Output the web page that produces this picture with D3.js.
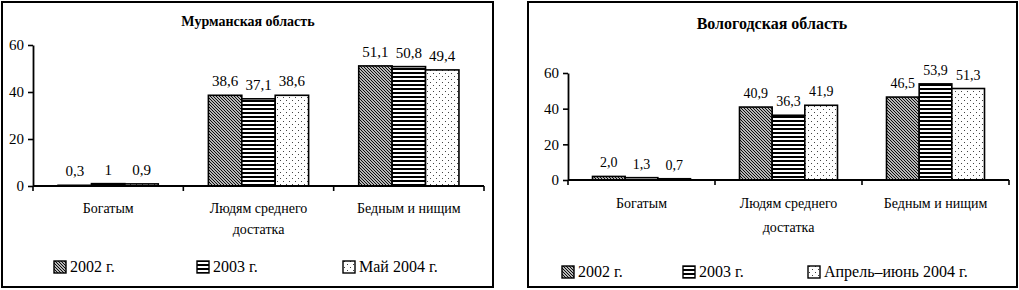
<!DOCTYPE html>
<html>
<head>
<meta charset="utf-8">
<script src="https://cdn.jsdelivr.net/npm/d3@7"></script>
</head>
<body style="margin:0">
<script>
// categories and tick values shared by both panels
const categoryLines = [["Богатым"], ["Людям среднего", "достатка"], ["Бедным и нищим"]];
const categories = categoryLines.map(d => d.join(" "));
const yTicks = [0, 20, 40, 60];

// Мурманская область
const murmanskSeries = ["2002 г.", "2003 г.", "Май 2004 г."];
const murmansk2002 = [0.3, 38.6, 51.1];
const murmansk2003 = [1, 37.1, 50.8];
const murmanskMay2004 = [0.9, 38.6, 49.4];

// Вологодская область
const vologdaSeries = ["2002 г.", "2003 г.", "Апрель–июнь 2004 г."];
const vologda2002 = [2.0, 40.9, 46.5];
const vologda2003 = [1.3, 36.3, 53.9];
const vologdaAprJun2004 = [0.7, 41.9, 51.3];

const FONT = "serif";

const svg = d3.select("body").append("svg")
  .attr("width", 1019)
  .attr("height", 290)
  .style("font-family", FONT);

/* fill patterns */
const defs = svg.append("defs");

const diag = defs.append("pattern")
  .attr("id", "p-diag")
  .attr("patternUnits", "userSpaceOnUse")
  .attr("width", 3).attr("height", 3);
diag.append("rect").attr("width", 3).attr("height", 3).attr("fill", "#fff");
diag.append("path").attr("d", "M-1,-1 L4,4 M-1,2 L1,4 M2,-1 L4,1")
  .attr("stroke", "#000").attr("stroke-width", 1.1);

const horiz = defs.append("pattern")
  .attr("id", "p-horiz")
  .attr("patternUnits", "userSpaceOnUse")
  .attr("width", 6).attr("height", 4);
horiz.append("rect").attr("width", 6).attr("height", 4).attr("fill", "#fff");
horiz.append("rect").attr("y", 0).attr("width", 6).attr("height", 2).attr("fill", "#000");

const dots = defs.append("pattern")
  .attr("id", "p-dots")
  .attr("patternUnits", "userSpaceOnUse")
  .attr("width", 6).attr("height", 6);
dots.append("rect").attr("width", 6).attr("height", 6).attr("fill", "#fff");
dots.append("rect").attr("x", 1).attr("y", 1).attr("width", 1).attr("height", 1).attr("fill", "#444");
dots.append("rect").attr("x", 4).attr("y", 4).attr("width", 1).attr("height", 1).attr("fill", "#444");

const fills = ["url(#p-diag)", "url(#p-horiz)", "url(#p-dots)"];

function drawPanel(cfg) {
  const g = svg.append("g");

  g.append("rect")
    .attr("x", cfg.frame[0]).attr("y", cfg.frame[1])
    .attr("width", cfg.frame[2]).attr("height", cfg.frame[3])
    .attr("fill", "none").attr("stroke", "#000").attr("stroke-width", 2);

  g.append("text")
    .attr("x", cfg.titleX).attr("y", cfg.titleY)
    .attr("text-anchor", "middle")
    .attr("font-weight", "bold")
    .attr("font-size", cfg.titleSize)
    .style("font-family", FONT)
    .text(cfg.title);

  const y = d3.scaleLinear().domain([0, 60]).range([cfg.y0, cfg.y60]);
  const x = d3.scaleBand().domain(categories)
    .range([cfg.x0, cfg.x1])
    .paddingInner(1 / 3).paddingOuter(1 / 6);
  const xs = d3.scaleBand().domain(d3.range(cfg.values.length)).range([0, x.bandwidth()]);

  // bars
  cfg.values.forEach((vals, si) => {
    g.append("g").selectAll("rect")
      .data(vals)
      .join("rect")
      .attr("x", (d, i) => x(categories[i]) + xs(si))
      .attr("y", d => y(d))
      .attr("width", xs.bandwidth())
      .attr("height", d => y(0) - y(d))
      .attr("fill", fills[si])
      .attr("stroke", "#000")
      .attr("stroke-width", 1.6);

    g.append("g").selectAll("text")
      .data(vals)
      .join("text")
      .attr("x", (d, i) => x(categories[i]) + xs(si) + xs.bandwidth() / 2)
      .attr("y", d => y(d) - 9)
      .attr("text-anchor", "middle")
      .attr("font-size", cfg.valueSize)
      .style("font-family", FONT)
      .text(cfg.fmt);
  });

  // y axis
  const yAxis = g.append("g")
    .attr("transform", `translate(${cfg.x0},0)`)
    .call(d3.axisLeft(y).tickValues(yTicks).tickSize(5).tickSizeOuter(0).tickPadding(4));
  yAxis.attr("font-size", 15).attr("font-family", "serif");
  yAxis.selectAll(".tick text").style("font-family", FONT);
  yAxis.select(".domain").attr("stroke-width", 1.8);
  yAxis.selectAll(".tick line").attr("stroke-width", 1.6);

  // x axis with boundary ticks
  const half = (x.step() - x.bandwidth()) / 2;
  const bounds = [cfg.x0].concat(categories.map(c => x(c) + x.bandwidth() + half));
  g.append("line")
    .attr("x1", cfg.x0).attr("x2", cfg.x1)
    .attr("y1", y(0)).attr("y2", y(0))
    .attr("stroke", "#000").attr("stroke-width", 2);
  g.append("g").selectAll("line")
    .data(bounds)
    .join("line")
    .attr("x1", d => d).attr("x2", d => d)
    .attr("y1", y(0)).attr("y2", y(0) + 5)
    .attr("stroke", "#000").attr("stroke-width", 1.6);

  // category labels, one text per line
  categoryLines.forEach((lines, i) => {
    g.append("g").selectAll("text")
      .data(lines)
      .join("text")
      .attr("x", x(categories[i]) + x.bandwidth() / 2)
      .attr("y", (d, k) => cfg.catY + k * cfg.catLine)
      .attr("text-anchor", "middle")
      .attr("font-size", 14)
      .style("font-family", FONT)
      .text(d => d);
  });

  // legend
  const leg = g.append("g").selectAll("g")
    .data(cfg.series)
    .join("g")
    .attr("transform", (d, i) => `translate(${cfg.legX[i]},${cfg.legY})`);
  leg.append("rect")
    .attr("x", 0).attr("y", -11)
    .attr("width", 12).attr("height", 12)
    .attr("fill", (d, i) => fills[i])
    .attr("stroke", "#000").attr("stroke-width", 1.4);
  leg.append("text")
    .attr("x", 16).attr("y", 0)
    .attr("font-size", 16)
    .style("font-family", FONT)
    .text(d => d);
}

drawPanel({
  frame: [2, 2, 491, 285],
  title: "Мурманская область", titleX: 248, titleY: 26, titleSize: 14,
  x0: 33, x1: 484, y0: 186, y60: 45, valueSize: 15,
  values: [murmansk2002, murmansk2003, murmanskMay2004],
  series: murmanskSeries,
  fmt: d => String(d).replace(".", ","),
  catY: 213, catLine: 21,
  legX: [54, 197, 343], legY: 272
});

drawPanel({
  frame: [528, 2, 489, 285],
  title: "Вологодская область", titleX: 772, titleY: 29, titleSize: 16,
  x0: 568, x1: 1009, y0: 180, y60: 73, valueSize: 14,
  values: [vologda2002, vologda2003, vologdaAprJun2004],
  series: vologdaSeries,
  fmt: d => d3.format(".1f")(d).replace(".", ","),
  catY: 208, catLine: 24,
  legX: [562, 683, 808], legY: 277
});
</script>
</body>
</html>
